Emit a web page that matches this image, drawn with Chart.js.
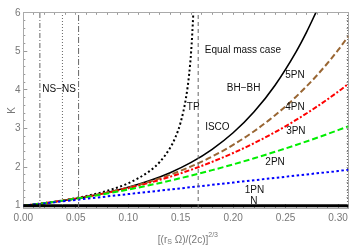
<!DOCTYPE html>
<html>
<head>
<meta charset="utf-8">
<script src="https://cdn.jsdelivr.net/npm/chart.js@4/dist/chart.umd.min.js"></script>
<style>
  html, body { margin: 0; padding: 0; background: #fff; }
  #wrap { width: 356px; height: 245px; }
</style>
</head>
<body>
<div id="wrap"><canvas id="c" width="356" height="245"></canvas></div>
<script>
// ---- data ----
const xGrid = [0, 0.02, 0.04, 0.06, 0.08, 0.10, 0.12, 0.14, 0.16, 0.18, 0.20, 0.22, 0.24, 0.26, 0.28, 0.30, 0.31];
const kN   = [1, 1, 1, 1, 1, 1, 1, 1, 1, 1, 1, 1, 1, 1, 1, 1, 1];
const k1PN = [1, 1.06, 1.12, 1.18, 1.24, 1.30, 1.36, 1.42, 1.48, 1.54, 1.60, 1.66, 1.72, 1.78, 1.84, 1.90, 1.93];
const k2PN = [1, 1.065, 1.139, 1.222, 1.315, 1.418, 1.529, 1.650, 1.781, 1.921, 2.070, 2.229, 2.397, 2.574, 2.761, 2.958, 3.059];
const k3PN = [1, 1.065, 1.141, 1.230, 1.334, 1.454, 1.593, 1.751, 1.932, 2.136, 2.365, 2.621, 2.906, 3.222, 3.570, 3.953, 4.160];
const k4PN = [1, 1.065, 1.142, 1.232, 1.340, 1.468, 1.620, 1.802, 2.018, 2.274, 2.576, 2.930, 3.344, 3.825, 4.382, 5.030, 5.400];
const x5PN = [0, 0.02, 0.04, 0.06, 0.08, 0.10, 0.12, 0.14, 0.16, 0.18, 0.20, 0.22, 0.24, 0.26, 0.27, 0.28];
const k5PN = [1, 1.065, 1.142, 1.233, 1.343, 1.477, 1.645, 1.856, 2.122, 2.462, 2.890, 3.435, 4.124, 4.989, 5.500, 6.070];
const xTP  = [0, 0.02, 0.04, 0.06, 0.08, 0.10, 0.12, 0.13, 0.14, 0.145, 0.15, 0.155, 0.158, 0.16, 0.162, 0.163];
const kTP  = [1, 1.066, 1.147, 1.250, 1.387, 1.581, 1.890, 2.132, 2.500, 2.774, 3.162, 3.780, 4.385, 5.000, 5.976, 6.742];
// vertical reference lines (NS-NS bounds, ISCO, right limit)
const vLines = [0.0158, 0.0373, 0.0527, 0.1667, 0.309];
const xTickStep = 0.05;
const yTickStep = 1;
const xRange = [0, 0.31];
const yRange = [0.94, 6];
// in-plot labels: text, x, y (data coordinates)
const labelTexts = ['NS\u2212NS', 'Equal mass case', 'BH\u2212BH', '5PN', '4PN', 'TP', 'ISCO', '3PN', '2PN', '1PN', 'N'];
const labelX     = [0.0341, 0.2093, 0.2100, 0.2589, 0.2589, 0.1620, 0.1850, 0.2598, 0.2400, 0.2203, 0.2197];
const labelY     = [4.03, 5.04, 4.05, 4.37, 3.54, 3.54, 3.04, 2.93, 2.12, 1.41, 1.12];

const FONT = "'Liberation Sans', Arial, sans-serif";
const pts = (xs, ys) => xs.map((x, i) => ({x, y: ys[i]}));

const vDash = [[5, 2, 1, 2], [1, 2], [6, 2, 1, 2], [4, 3], [1, 2]];
const vSets = vLines.map((v, i) => ({
  data: [{x: v, y: yRange[0]}, {x: v, y: yRange[1]}],
  borderColor: '#666', borderWidth: 1, borderDash: vDash[i], pointRadius: 0, fill: false
}));

const curve = (xs, ys, color, width, dash) => ({
  data: pts(xs, ys), borderColor: color, borderWidth: width, borderDash: dash,
  pointRadius: 0, fill: false, cubicInterpolationMode: 'monotone', borderCapStyle: 'butt'
});

const datasets = [
  ...vSets,
  curve(xGrid, kN, '#000', 3, []),
  curve(xGrid, k1PN, '#0000ff', 2, [2.5, 2.5]),
  curve(xGrid, k2PN, '#00ee00', 2, [6, 3]),
  curve(xGrid, k3PN, '#ff0000', 2, [5, 2, 2, 2]),
  curve(xGrid, k4PN, '#996633', 2, [6, 3]),
  curve(x5PN, k5PN, '#000', 1.6, []),
  curve(xTP, kTP, '#000', 2, [2, 2.5])
];

const textPlugin = {
  id: 'texts',
  afterDatasetsDraw(chart) {
    const {ctx, scales} = chart;
    ctx.save();
    ctx.fillStyle = '#111';
    ctx.font = '10px ' + FONT;
    ctx.textAlign = 'center';
    ctx.textBaseline = 'middle';
    labelTexts.forEach((t, i) => {
      ctx.fillText(t, scales.x.getPixelForValue(labelX[i]), scales.y.getPixelForValue(labelY[i]));
    });
    // axis titles
    ctx.fillStyle = '#777';
    ctx.save();
    ctx.translate(12, (scales.y.top + scales.y.bottom) / 2);
    ctx.rotate(-Math.PI / 2);
    ctx.fillText('K', 0, 0);
    ctx.restore();
    const parts = [
      ['[(r', 10, 0], ['S', 7, 2.5], [' \u03A9)/(2c)]', 10, 0], ['2/3', 7, -4.5]
    ];
    let total = 0;
    parts.forEach(p => { ctx.font = p[1] + 'px ' + FONT; total += ctx.measureText(p[0]).width; });
    let x = (scales.x.left + scales.x.right) / 2 + 2 - total / 2;
    const y = 240;
    ctx.textAlign = 'left';
    parts.forEach(p => {
      ctx.font = p[1] + 'px ' + FONT;
      ctx.fillText(p[0], x, y + p[2]);
      x += ctx.measureText(p[0]).width;
    });
    ctx.restore();
  }
};

const axisBase = (pos, range, step, fitSize, tickLen, showLabels, weight, border, horiz) => ({
  type: 'linear', position: pos, min: range[0], max: range[1], weight: weight,
  afterFit: s => { if (horiz) s.height = fitSize; else s.width = fitSize; },
  ticks: {
    display: showLabels, stepSize: step, includeBounds: false, autoSkip: false,
    maxRotation: 0, minRotation: 0, color: '#777', font: {size: 10, family: FONT},
    padding: horiz ? 8 : 6.8,
    callback: v => horiz ? v.toFixed(2) : String(Math.round(v))
  },
  grid: {drawOnChartArea: false, drawTicks: true, tickLength: tickLen, tickColor: '#999', tickWidth: 1},
  border: {display: border, color: '#aaa', width: 1}
});

new Chart(document.getElementById('c'), {
  type: 'line',
  data: {datasets},
  options: {
    responsive: false, animation: false, devicePixelRatio: 1,
    layout: {padding: {top: 5.5, right: 5, left: 0, bottom: 0}},
    plugins: {legend: {display: false}, tooltip: {enabled: false}},
    scales: {
      x:  axisBase('bottom', xRange, xTickStep, 37, -4, true, 0, true, true),
      xm: axisBase('bottom', xRange, 0.01, 0, -2, false, -1, false, true),
      xt: axisBase('top', xRange, 0.01, 0, -2, false, 0, true, true),
      y:  axisBase('left', yRange, yTickStep, 23.3, -4, true, 0, true, false),
      ym: axisBase('left', yRange, 0.2, 0, -2, false, -1, false, false),
      yr: axisBase('right', yRange, 0.2, 0, -2, false, 0, true, false)
    }
  },
  plugins: [textPlugin]
});
</script>
</body>
</html>
